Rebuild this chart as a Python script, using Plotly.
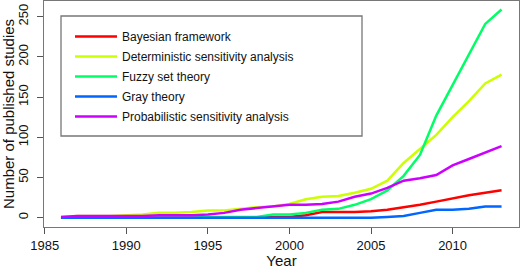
import plotly.graph_objects as go

years = list(range(1986, 2014))
bayesian = [0,0,0,0,0,0,0,0,0,0,0,0,0,1,1,3,7,7,7,8,10,13,16,20,24,28,31,34]
deterministic = [1,2,2,2,3,4,6,6,7,9,9,11,13,14,17,23,26,27,31,36,46,68,85,103,125,145,167,178]
fuzzy = [0,0,0,0,0,0,0,0,0,1,1,1,1,4,4,6,10,11,16,23,34,52,78,127,165,204,241,259]
gray = [0,0,0,0,0,0,0,0,0,0,0,0,0,0,0,0,0,0,0,0,1,2,6,10,10,11,14,14]
probabilistic = [1,2,2,2,2,2,3,3,3,4,6,10,12,14,16,16,17,20,26,30,37,46,49,53,65,73,81,89]

series_names = ["Bayesian framework", "Deterministic sensitivity analysis",
                "Fuzzy set theory", "Gray theory", "Probabilistic sensitivity analysis"]
series_values = [bayesian, deterministic, fuzzy, gray, probabilistic]
colors = ["#FF0000", "#CCFF00", "#00FF66", "#0066FF", "#CC00FF"]

x_ticks = [1985, 1990, 1995, 2000, 2005, 2010]
y_ticks = [0, 50, 100, 150, 200, 250]

fig = go.Figure()
for i, (name, vals, c) in enumerate(zip(series_names, series_values, colors)):
    fig.add_trace(go.Scatter(x=years, y=vals, mode="lines", name=name,
                             legendgroup=f"g{i}",
                             line=dict(color=c, width=2.5)))

font = "Liberation Sans, Arial, sans-serif"
fig.update_layout(
    width=520, height=269,
    margin=dict(l=44, r=1, t=1, b=42, autoexpand=False),
    paper_bgcolor="white", plot_bgcolor="white",
    font=dict(family=font, size=12, color="#111"),
    showlegend=True,
    legend=dict(x=(70-44)/475, y=(227-22)/226, xanchor="left", yanchor="top",
                bgcolor="rgba(0,0,0,0)", borderwidth=0,
                font=dict(size=12, family=font, color="#111"),
                itemwidth=42, tracegroupgap=1, traceorder="grouped"),
    shapes=[dict(type="rect", xref="paper", yref="paper",
                 x0=(61-44)/475, x1=(362-44)/475,
                 y0=(227-136)/226, y1=(227-16)/226,
                 line=dict(color="#777", width=1.3))],
)
fig.update_xaxes(range=[1984.96, 2014.07], tickvals=x_ticks, ticks="outside",
                 ticklen=6, tickcolor="#555", showgrid=False, zeroline=False,
                 showline=True, mirror=True, linecolor="#777", linewidth=1.3,
                 tickfont=dict(size=13), automargin=False,
                 title=dict(text="Year", font=dict(size=15), standoff=9))
fig.update_yaxes(range=[-11.57, 269.5], tickvals=y_ticks, ticks="outside",
                 ticklen=6, tickcolor="#555", showgrid=False, zeroline=False,
                 showline=True, mirror=True, linecolor="#777", linewidth=1.3,
                 tickangle=-90, tickfont=dict(size=13), automargin=False,
                 ticklabelstandoff=4,
                 title=dict(text="Number of published studies", font=dict(size=15), standoff=3))

fig.write_html("out.html", post_script="document.body.style.margin='0';",
               config={"displayModeBar": False})
